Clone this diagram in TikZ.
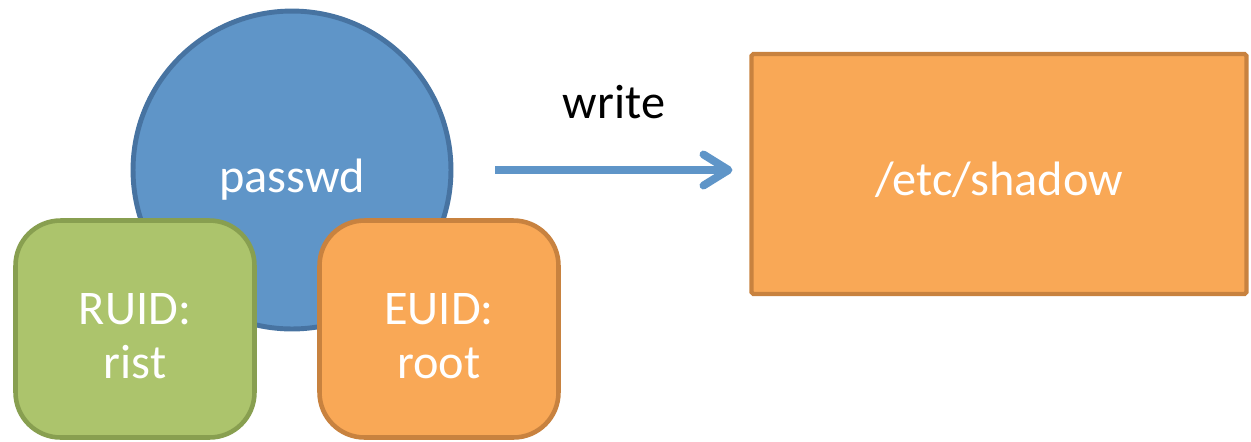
\documentclass[tikz,border=0pt]{standalone}
\usepackage{fontspec}
\setmainfont{Carlito}
\usepackage{tikz}
\usetikzlibrary{arrows.meta}

\definecolor{procFill}{HTML}{5F95C8}
\definecolor{procLine}{HTML}{4773A1}
\definecolor{ruidFill}{HTML}{ACC46C}
\definecolor{ruidLine}{HTML}{889F50}
\definecolor{euidFill}{HTML}{F9A856}
\definecolor{euidLine}{HTML}{C8823F}

\newcommand{\bigtxt}{\fontsize{27.5}{30.7}\selectfont}

\begin{document}
\begin{tikzpicture}[x=0.02cm, y=-0.02cm]
               \tikzstyle{myProc}=[circle, draw=procLine, fill=procFill, line width=2.8pt, minimum size=6.36cm, inner sep=0pt]
               \tikzstyle{myId}=[rectangle, rounded corners=0.9cm, line width=2.6pt, minimum width=4.78cm, minimum height=4.34cm]
               \tikzstyle{myFile}=[rectangle, rounded corners=1pt, draw=euidLine, fill=euidFill, line width=2.4pt, minimum width=9.9cm, minimum height=4.8cm]
               \tikzstyle{myTxt}=[font=\bigtxt, inner sep=0pt, align=center]
               \tikzstyle{myFlow}=[draw=procFill, line width=4.5pt, -{Straight Barb[length=0.5cm, width=0.62cm, line cap=round, line join=round]}]

               \useasboundingbox (0,0) rectangle (1251,441);

               \node[myProc] (proc) at (292,170) {};
               \node[myTxt, text=white] (pname) at (292,180) {passwd};

               \node[myId, fill=ruidFill, draw=ruidLine] (ruid) at (135,329) {};
               \node[myTxt, text=white] (ruidTxt) at (135,336) {RUID:\\rist};
               \node[myId, fill=euidFill, draw=euidLine] (euid) at (439,329) {};
               \node[myTxt, text=white] (euidTxt) at (439,336) {EUID:\\root};

               \node[myFile] (shadow) at (999,174) {};
               \node[myTxt, text=white] (shadowTxt) at (999,180) {/etc/shadow};

               \node[myTxt] (act) at (614,102) {write};
               \draw[myFlow, shorten <=0.84cm, shorten >=0.34cm] (proc.east) -- (shadow.west |- proc.east);
            \end{tikzpicture}
\end{document}
